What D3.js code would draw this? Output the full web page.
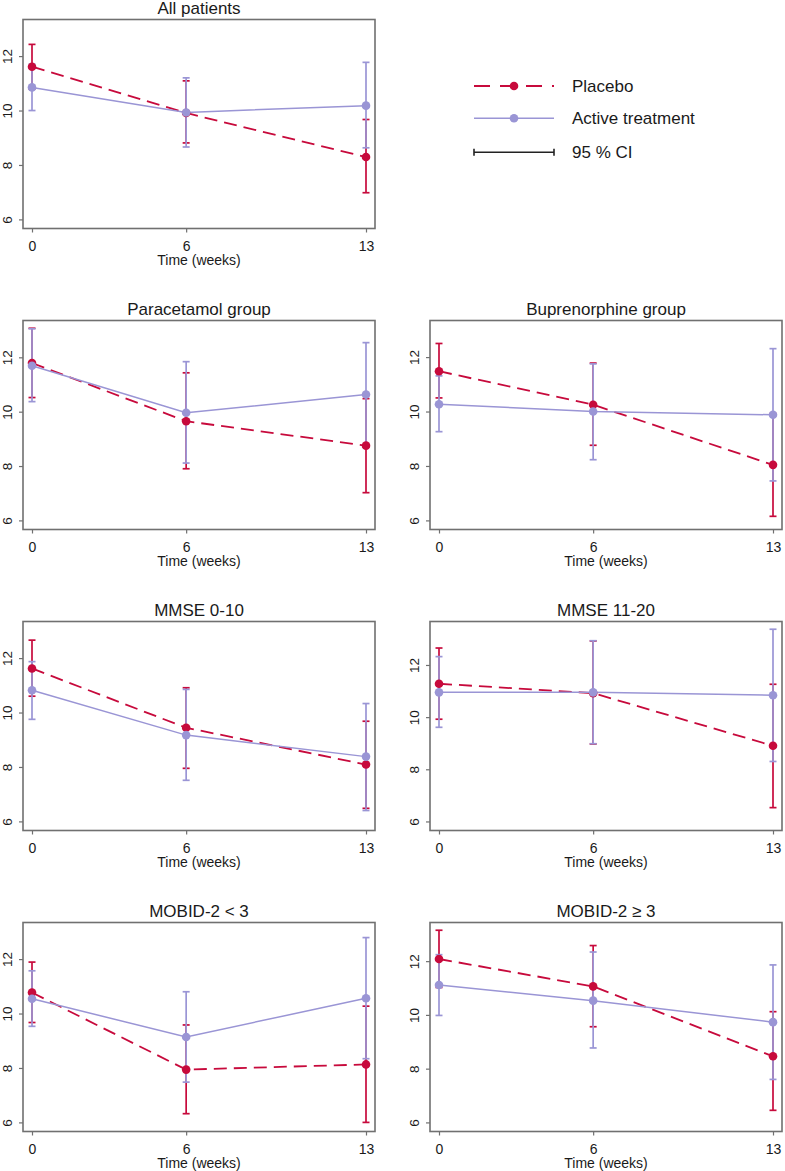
<!DOCTYPE html>
<html>
<head>
<meta charset="utf-8">
<script src="https://cdn.jsdelivr.net/npm/d3@7"></script>
<style>
  html, body { margin: 0; padding: 0; background: #ffffff; }
  svg { display: block; font-family: "Liberation Sans", Arial, sans-serif; }
</style>
</head>
<body>
<svg id="chart" width="785" height="1171"></svg>
<script>
// ---- data ----
const times = [0, 6, 13];
const yTicks = [6, 8, 10, 12];
const panelTitles = ["All patients", "Paracetamol group", "Buprenorphine group",
  "MMSE 0-10", "MMSE 11-20", "MOBID-2 < 3", "MOBID-2 \u2265 3"];
const xAxisLabel = "Time (weeks)";
const seriesNames = ["Placebo", "Active treatment"];
const ciLabel = "95 % CI";

const placeboMean = [[11.61, 9.91, 8.29], [11.79, 9.65, 8.75], [11.48, 10.25, 8.04], [11.62, 9.44, 8.09], [11.28, 10.92, 8.90], [10.77, 7.94, 8.13], [12.08, 11.06, 8.46]];
const placeboLo   = [[10.79, 8.81, 6.98], [10.52, 7.90, 7.02], [10.50, 8.76, 6.15], [10.60, 7.95, 6.48], [9.92, 8.97, 6.53], [9.67, 6.32, 6.00], [11.02, 9.56, 6.45]];
const placeboHi   = [[12.43, 11.09, 9.67], [13.07, 11.43, 10.48], [12.50, 11.78, 9.93], [12.66, 10.91, 9.68], [12.65, 12.92, 11.26], [11.89, 9.58, 10.27], [13.15, 12.58, 10.12]];
const activeMean  = [[10.85, 9.93, 10.18], [11.69, 9.96, 10.63], [10.27, 10.00, 9.88], [10.82, 9.17, 8.38], [10.95, 10.95, 10.84], [10.54, 9.14, 10.56], [11.11, 10.53, 9.73]];
const activeLo    = [[10.00, 8.66, 8.63], [10.37, 8.11, 8.72], [9.26, 8.23, 7.45], [9.75, 7.51, 6.40], [9.61, 8.98, 8.30], [9.53, 7.48, 8.34], [9.98, 8.77, 7.60]];
const activeHi    = [[11.70, 11.20, 11.77], [13.05, 11.84, 12.54], [11.31, 11.75, 12.31], [11.87, 10.85, 10.33], [12.32, 12.93, 13.37], [11.57, 10.80, 12.79], [12.24, 12.34, 11.86]];

// ---- layout / style ----
const RED = "#c70a3c", PURPLE = "#9a95d5", BOX = "#707070", TXT = "#1a1a1a";
const boxW = 352, boxH = 209;
const colX = [23, 430];
const rowY = [19.5, 320.5, 621.5, 922.5];
const slots = [[0,0],[0,1],[1,1],[0,2],[1,2],[0,3],[1,3]];

const svg = d3.select("#chart");

panelTitles.forEach((title, i) => {
  const [c, r] = slots[i];
  const g = svg.append("g").attr("transform", `translate(${colX[c]},${rowY[r]})`);

  const allVals = [].concat(placeboHi[i], activeHi[i], placeboLo[i], activeLo[i]);
  const lo = 5.95, hi = Math.max(13.06, d3.max(allVals));
  const ext = (hi - lo) * 0.04;
  const y = d3.scaleLinear().domain([lo - ext, hi + ext]).range([boxH, 0]);
  const x = d3.scaleLinear().domain([0, 13]).range([9, boxW - 9]);

  g.append("text").attr("x", boxW / 2).attr("y", -5.5).attr("text-anchor", "middle")
    .attr("font-size", 17).attr("fill", TXT).text(title);

  const xa = g.append("g").attr("transform", `translate(0,${boxH})`)
    .call(d3.axisBottom(x).tickValues(times).tickSize(4).tickFormat(d3.format("d")));
  xa.select(".domain").remove();
  xa.selectAll("line").attr("stroke", BOX).attr("stroke-width", 1.2);
  xa.selectAll("text").attr("y", 22).attr("dy", null).attr("font-size", 14)
    .attr("fill", TXT).attr("font-family", "Liberation Sans, Arial, sans-serif");
  g.append("text").attr("x", boxW / 2).attr("y", boxH + 36).attr("text-anchor", "middle")
    .attr("font-size", 14).attr("fill", TXT).text(xAxisLabel);

  const ya = g.append("g")
    .call(d3.axisLeft(y).tickValues(yTicks).tickSize(4).tickFormat(d3.format("d")));
  ya.select(".domain").remove();
  ya.selectAll("line").attr("stroke", BOX).attr("stroke-width", 1.2);
  ya.selectAll("text").attr("x", null).attr("dy", null)
    .attr("transform", "translate(-11,0) rotate(-90)").attr("text-anchor", "middle")
    .attr("font-size", 13.5).attr("fill", TXT).attr("font-family", "Liberation Sans, Arial, sans-serif");

  g.append("rect").attr("x", 0).attr("y", 0).attr("width", boxW).attr("height", boxH)
    .attr("fill", "none").attr("stroke", BOX).attr("stroke-width", 1.6);

  const series = [
    {mean: placeboMean[i], lo: placeboLo[i], hi: placeboHi[i], color: RED, dash: "13,7"},
    {mean: activeMean[i], lo: activeLo[i], hi: activeHi[i], color: PURPLE, dash: null}
  ];

  series.forEach(s => {
    const eb = g.append("g");
    times.forEach((t, k) => {
      const cx = x(t);
      eb.append("line").attr("x1", cx).attr("x2", cx).attr("y1", y(s.lo[k])).attr("y2", y(s.hi[k]))
        .attr("stroke", s.color).attr("stroke-width", 1.7);
      [s.lo[k], s.hi[k]].forEach(v => {
        eb.append("line").attr("x1", cx - 3.5).attr("x2", cx + 3.5).attr("y1", y(v)).attr("y2", y(v))
          .attr("stroke", s.color).attr("stroke-width", 1.7);
      });
    });
  });

  const line = d3.line().x((d, k) => x(times[k])).y(d => y(d));
  series.forEach(s => {
    g.append("path").datum(s.mean).attr("d", line).attr("fill", "none")
      .attr("stroke", s.color).attr("stroke-width", s.dash ? 1.8 : 1.5)
      .attr("stroke-dasharray", s.dash);
  });
  series.forEach(s => {
    g.selectAll(null).data(s.mean).enter().append("circle")
      .attr("cx", (d, k) => x(times[k])).attr("cy", d => y(d)).attr("r", 4.3)
      .attr("fill", s.color);
  });
});

// ---- legend ----
const lg = svg.append("g");
const legRows = [86, 118.3, 152.3];
const lx1 = 474, lx2 = 554, lmid = 514, ltx = 572;
lg.append("line").attr("x1", lx1).attr("x2", lx2).attr("y1", legRows[0]).attr("y2", legRows[0])
  .attr("stroke", RED).attr("stroke-width", 1.8).attr("stroke-dasharray", "16,10");
lg.append("circle").attr("cx", lmid).attr("cy", legRows[0]).attr("r", 4.3).attr("fill", RED);
lg.append("line").attr("x1", lx1).attr("x2", lx2).attr("y1", legRows[1]).attr("y2", legRows[1])
  .attr("stroke", PURPLE).attr("stroke-width", 1.5);
lg.append("circle").attr("cx", lmid).attr("cy", legRows[1]).attr("r", 4.3).attr("fill", PURPLE);
lg.append("line").attr("x1", lx1).attr("x2", lx2).attr("y1", legRows[2]).attr("y2", legRows[2])
  .attr("stroke", "#222").attr("stroke-width", 1.6);
[lx1, lx2].forEach(xx => lg.append("line").attr("x1", xx).attr("x2", xx)
  .attr("y1", legRows[2] - 3.5).attr("y2", legRows[2] + 3.5).attr("stroke", "#222").attr("stroke-width", 1.6));
const legLabels = [seriesNames[0], seriesNames[1], ciLabel];
legLabels.forEach((t, k) => lg.append("text").attr("x", ltx).attr("y", legRows[k] + 6)
  .attr("font-size", 17).attr("fill", TXT).text(t));
</script>
</body>
</html>
